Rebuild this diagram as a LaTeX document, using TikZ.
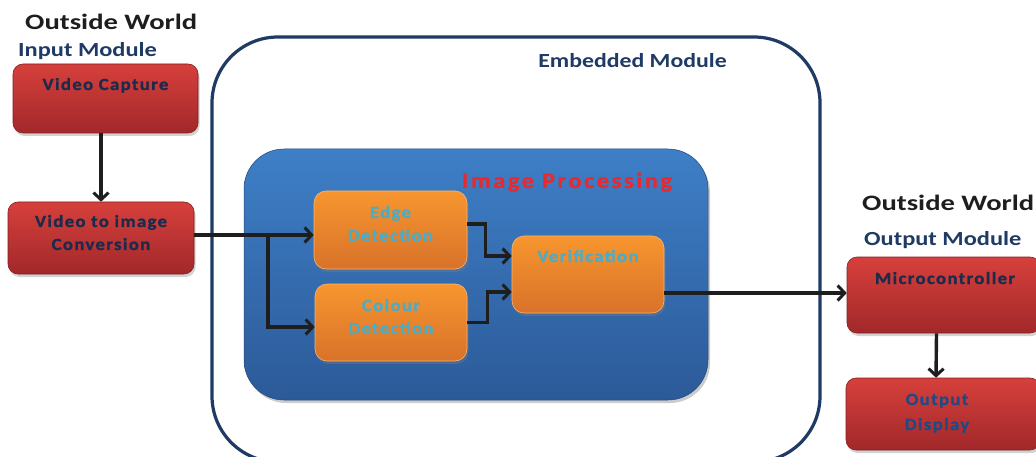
\documentclass[tikz,border=0pt]{standalone}
\usepackage{fontspec}
\setmainfont{Carlito}
\newfontfamily\headfont[FakeStretch=1.30]{Carlito}
\newfontfamily\subfont[FakeStretch=1.22]{Carlito}
\newfontfamily\embfont[FakeStretch=1.19]{Carlito}
\newfontfamily\boxfont[FakeStretch=1.1,LetterSpace=8,BoldFeatures={FakeBold=1.2}]{Carlito}
\newfontfamily\ipfont[FakeStretch=1.1,LetterSpace=12,BoldFeatures={FakeBold=1}]{Carlito}
\usetikzlibrary{shadows,arrows.meta,calc}
\definecolor{navy}{HTML}{1F3A64}
\definecolor{boxtxt}{HTML}{1C2A4C}
\definecolor{cyantxt}{HTML}{4BACC6}
\definecolor{redtop}{HTML}{D6403C}
\definecolor{redbot}{HTML}{A2282A}
\definecolor{ortop}{HTML}{F7962F}
\definecolor{orbot}{HTML}{D8722A}
\definecolor{bltop}{HTML}{3E7FC7}
\definecolor{blbot}{HTML}{2C5A98}
\definecolor{ipred}{HTML}{E82A2E}
\definecolor{dark}{HTML}{1E1E1E}
\definecolor{dispblue}{HTML}{1F4A85}
\tikzset{
  redbox/.style={draw=redbot!80!black, line width=0.6pt, rounded corners=10pt, top color=redtop, bottom color=redbot,
    drop shadow={opacity=0.35, shadow xshift=1.5pt, shadow yshift=-3pt}},
  orbox/.style={draw=ortop!70!white, line width=0.6pt, rounded corners=12pt, top color=ortop, bottom color=orbot,
    drop shadow={opacity=0.35, shadow xshift=1.5pt, shadow yshift=-3pt}},
  boxtext/.style={font=\fontsize{17}{23}\boxfont\bfseries, text=boxtxt, align=center, inner sep=0pt, anchor=base},
  ortext/.style={boxtext, text=cyantxt},
  heading/.style={font=\fontsize{22}{24}\headfont\bfseries, text=dark, inner sep=0pt, anchor=base west},
  subhead/.style={font=\fontsize{20}{22}\subfont\bfseries, text=navy, inner sep=0pt, anchor=base west},
  arr/.style={draw=dark, line width=3.4pt, -{Straight Barb[length=7pt,width=15pt,line width=3pt]}},
}
\begin{document}
\begin{tikzpicture}[x=1pt,y=-1pt]
\useasboundingbox (0,0) rectangle (1036,457);
\clip (0,0) rectangle (1036,457);
\fill[white] (0,0) rectangle (1036,457);

% headings
\node[heading] (ow1) at (25,30) {Outside World};
\node[subhead] (im) at (18,57) {Input Module};
\node[heading] (ow2) at (862,211) {Outside World};
\node[subhead] (om) at (864,246) {Output Module};

% embedded module
\node[draw=navy, line width=3.2pt, rounded corners=66pt, minimum width=608pt, minimum height=425pt] (emb) at (516,249.5) {};
\node[font=\fontsize{20}{22}\embfont\bfseries, text=navy, inner sep=0pt, anchor=base] (embl) at (632.5,68) {Embedded Module};

% image processing
\node[rounded corners=40pt, top color=bltop, bottom color=blbot, draw=blbot!80!black, line width=0.5pt, minimum width=464pt, minimum height=251pt,
  drop shadow={opacity=0.4, shadow xshift=2pt, shadow yshift=-3pt}] (ip) at (476,274.5) {};
\node[font=\fontsize{22}{24}\ipfont\bfseries, text=ipred, inner sep=0pt, anchor=base] (ipl) at (567,188) {Image Processing};

% input boxes
\node[redbox, minimum width=185pt, minimum height=69pt] (vc) at (105.5,98.5) {};
\node[boxtext] (vct) at (105.5,90) {Video Capture};
\node[redbox, minimum width=186pt, minimum height=72pt] (v2i) at (101,238) {};
\node[boxtext] (v2it) at (101,250) {Video to image\\Conversion};

% processing boxes
\node[orbox, minimum width=153pt, minimum height=78pt] (edge) at (390.5,230) {};
\node[ortext] (edget) at (390.5,241) {Edge\\Detection};
\node[orbox, minimum width=152pt, minimum height=77pt] (col) at (391,322.5) {};
\node[ortext] (colt) at (391,334) {Colour\\Detection};
\node[orbox, minimum width=152pt, minimum height=77pt] (ver) at (588,274.5) {};
\node[ortext] (vert) at (588,262) {Verification};

% output boxes
\node[redbox, minimum width=193pt, minimum height=76pt] (mc) at (943.5,295) {};
\node[boxtext] (mct) at (945,284) {Microcontroller};
\node[redbox, minimum width=194pt, minimum height=72pt] (od) at (943,414) {};
\node[boxtext, text=dispblue, font=\fontsize{17}{25}\boxfont\bfseries] (odt) at (937,430) {Output\\Display};

% connectors
\coordinate (j1) at (268,235);
\coordinate (j2) at (268,327);
\draw[arr] (vc.south -| v2i.north) -- (v2i.north);
\draw[arr] (v2i.east |- j1) -- (edge.west |- j1);
\draw[arr] (j1) |- (col.west |- j2);
\draw[arr] ($(edge.east)+(0,-6)$) -- ++(18,0) |- ($(ver.west)+(0,-18.5)$);
\draw[arr] (col.east) -- ++(20,0) |- ($(ver.west)+(0,17.5)$);
\draw[arr] ($(ver.east)+(0,18.5)$) -- ($(mc.west)+(0,-2)$);
\draw[arr] ($(mc.south)+(-7,0)$) -- ($(od.north)+(-7,0)$);
\end{tikzpicture}
\end{document}
